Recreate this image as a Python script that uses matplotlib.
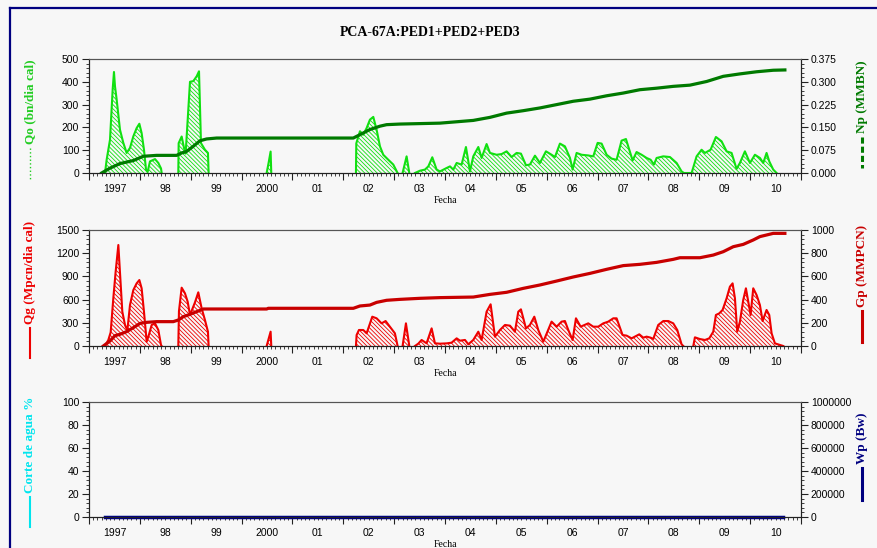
import numpy as np
import matplotlib.pyplot as plt
from matplotlib.lines import Line2D
from matplotlib.ticker import MultipleLocator, AutoMinorLocator, FormatStrFormatter

nan = np.nan

# Qo oil rate (bn/dia cal), time in decimal years
qo_t = [1997.315, 1997.347, 1997.413, 1997.465, 1997.491, 1997.511, 1997.544, 1997.609, 1997.675, 1997.740,
        1997.806, 1997.872, 1997.937, 1997.990, 1998.035, 1998.081, 1998.121, 1998.153, 1998.199, 1998.298,
        1998.363, 1998.416, 1998.429, 1998.43,
        1998.756, 1998.763, 1998.822, 1998.868, 1998.900, 1998.986, 1999.051, 1999.117, 1999.163, 1999.202,
        1999.280, 1999.339, 1999.352, 1999.36,
        2000.493, 2000.532, 2000.571, 2000.584, 2000.59,
        2002.249, 2002.256, 2002.328, 2002.393, 2002.459, 2002.524, 2002.590, 2002.655, 2002.721, 2002.786,
        2002.885, 2002.983, 2003.068, 2003.07,
        2003.166, 2003.245, 2003.298, 2003.30,
        2003.409, 2003.507, 2003.606, 2003.672, 2003.750, 2003.835, 2003.901, 2004.032, 2004.098, 2004.163,
        2004.229, 2004.327, 2004.412, 2004.491, 2004.556, 2004.655, 2004.720, 2004.818, 2004.884, 2005.015,
        2005.113, 2005.212, 2005.310, 2005.408, 2005.493, 2005.592, 2005.670, 2005.769, 2005.867, 2005.985,
        2006.096, 2006.162, 2006.260, 2006.358, 2006.457, 2006.509, 2006.588, 2006.686, 2006.817, 2006.915,
        2007.001, 2007.079, 2007.178, 2007.276, 2007.374, 2007.472, 2007.558, 2007.623, 2007.689, 2007.767,
        2007.866, 2007.964, 2008.043, 2008.108, 2008.161, 2008.292, 2008.423, 2008.554, 2008.652, 2008.698,
        2008.780, 2008.849, 2008.947, 2009.045, 2009.111, 2009.222, 2009.327, 2009.438, 2009.537, 2009.635,
        2009.733, 2009.799, 2009.897, 2009.996, 2010.094, 2010.192, 2010.258, 2010.323, 2010.376, 2010.454,
        2010.520]
qo = [0, 58, 146, 365, 443, 380, 322, 190, 132, 88,
      110, 161, 197, 216, 175, 102, 15, 5, 51, 61,
      44, 20, 0, nan,
      0, 131, 160, 110, 85, 400, 403, 424, 446, 131,
      102, 88, 0, nan,
      0, 45, 94, 0, nan,
      0, 130, 183, 168, 197, 234, 246, 190, 117, 80,
      58, 37, 0, nan,
      0, 73, 0, nan,
      0, 10, 15, 29, 69, 15, 7, 22, 29, 15,
      44, 37, 114, 7, 73, 114, 66, 127, 88, 80,
      83, 95, 70, 88, 85, 34, 37, 76, 44, 95,
      80, 70, 129, 117, 66, 15, 88, 80, 77, 73,
      132, 129, 80, 63, 58, 142, 149, 102, 55, 92,
      80, 66, 58, 37, 66, 73, 70, 44, 7, 0,
      0, 0, 73, 102, 88, 102, 158, 139, 95, 88,
      18, 44, 95, 44, 80, 66, 44, 88, 51, 15,
      0]

# Np cumulative oil (MMBN)
np_t = [1997.249, 1997.413, 1997.609, 1997.872, 1998.068, 1998.330, 1998.723, 1998.822, 1998.920, 1999.051,
        1999.182, 1999.313, 1999.510, 2002.197, 2002.328, 2002.524, 2002.721, 2002.852, 2003.114, 2003.900,
        2004.556, 2004.884, 2005.212, 2005.539, 2005.867, 2006.195, 2006.522, 2006.850, 2007.178, 2007.505,
        2007.833, 2008.161, 2008.488, 2008.816, 2009.144, 2009.471, 2009.799, 2010.127, 2010.454, 2010.683]
np_cum = [0, 0.016, 0.031, 0.041, 0.055, 0.058, 0.058, 0.066, 0.071, 0.088,
          0.106, 0.112, 0.115, 0.115, 0.126, 0.143, 0.154, 0.159, 0.161, 0.164,
          0.173, 0.183, 0.197, 0.205, 0.214, 0.225, 0.236, 0.243, 0.254, 0.263,
          0.274, 0.279, 0.285, 0.289, 0.301, 0.318, 0.326, 0.333, 0.338, 0.339]

# Qg gas rate (Mpcn/dia cal)
qg_t = [1997.315, 1997.380, 1997.426, 1997.478, 1997.524, 1997.577, 1997.609, 1997.655, 1997.708, 1997.754,
        1997.806, 1997.872, 1997.937, 1997.990, 1998.035, 1998.081, 1998.134, 1998.180, 1998.232, 1998.298,
        1998.363, 1998.416, 1998.429, 1998.43,
        1998.756, 1998.769, 1998.822, 1998.887, 1998.940, 1998.986, 1999.084, 1999.149, 1999.215, 1999.280,
        1999.339, 1999.352, 1999.36,
        2000.493, 2000.532, 2000.571, 2000.584, 2000.59,
        2002.249, 2002.262, 2002.308, 2002.393, 2002.459, 2002.570, 2002.655, 2002.753, 2002.832, 2002.917,
        2003.015, 2003.068, 2003.07,
        2003.166, 2003.232, 2003.298, 2003.30,
        2003.409, 2003.474, 2003.540, 2003.638, 2003.737, 2003.802, 2003.900, 2004.032, 2004.130, 2004.229,
        2004.294, 2004.393, 2004.458, 2004.556, 2004.655, 2004.720, 2004.818, 2004.897, 2004.982, 2005.081,
        2005.179, 2005.277, 2005.375, 2005.441, 2005.493, 2005.592, 2005.670, 2005.756, 2005.834, 2005.933,
        2006.096, 2006.195, 2006.293, 2006.358, 2006.424, 2006.509, 2006.575, 2006.667, 2006.817, 2006.915,
        2007.014, 2007.112, 2007.210, 2007.309, 2007.374, 2007.492, 2007.571, 2007.669, 2007.820, 2007.898,
        2007.964, 2008.043, 2008.095, 2008.193, 2008.292, 2008.390, 2008.488, 2008.567, 2008.652, 2008.685,
        2008.69,
        2008.882, 2008.914, 2009.012, 2009.111, 2009.196, 2009.275, 2009.327, 2009.393, 2009.458, 2009.537,
        2009.602, 2009.655, 2009.701, 2009.746, 2009.799, 2009.864, 2009.917, 2009.963, 2010.009, 2010.061,
        2010.127, 2010.192, 2010.245, 2010.323, 2010.376, 2010.422, 2010.487, 2010.585, 2010.651]
qg = [0, 78, 177, 616, 961, 1306, 961, 444, 272, 200,
      530, 724, 810, 853, 746, 444, 56, 150, 272, 293,
      207, 13, 0, nan,
      0, 450, 754, 681, 573, 401, 565, 694, 487, 336,
      185, 0, nan,
      0, 90, 185, 0, nan,
      0, 142, 207, 207, 164, 379, 358, 293, 323, 250,
      164, 0, nan,
      0, 293, 0, nan,
      0, 30, 78, 35, 228, 35, 30, 34, 43, 99,
      69, 78, 22, 78, 185, 78, 444, 539, 121, 207,
      272, 263, 185, 444, 474, 228, 272, 379, 207, 56,
      315, 250, 315, 323, 207, 78, 358, 250, 293, 250,
      250, 293, 315, 358, 358, 142, 134, 99, 151, 108,
      121, 108, 91, 272, 323, 323, 293, 207, 22, 0,
      nan,
      0, 112, 90, 78, 99, 185, 401, 422, 466, 616,
      767, 810, 616, 185, 315, 595, 746, 573, 401, 746,
      659, 530, 323, 466, 401, 164, 34, 13, 0]

# Gp cumulative gas (MMPCN)
gp_t = [1997.282, 1997.413, 1997.511, 1997.609, 1997.740, 1997.872, 1998.003, 1998.134, 1998.330, 1998.658,
        1998.756, 1998.855, 1998.986, 1999.117, 1999.248, 1999.379, 2000.493, 2000.526, 2002.197, 2002.328,
        2002.524, 2002.655, 2002.852, 2003.114, 2003.507, 2003.900, 2004.556, 2004.884, 2005.212, 2005.539,
        2005.867, 2006.195, 2006.522, 2006.850, 2007.178, 2007.505, 2007.833, 2008.161, 2008.488, 2008.619,
        2009.012, 2009.275, 2009.471, 2009.668, 2009.864, 2010.061, 2010.192, 2010.454, 2010.683]
gp = [0, 43, 89, 101, 124, 158, 195, 204, 210, 210,
      224, 253, 273, 296, 319, 319, 319, 325, 325, 345,
      353, 376, 394, 402, 411, 417, 422, 445, 463, 497,
      526, 560, 595, 626, 661, 693, 704, 721, 747, 761,
      761, 784, 813, 856, 876, 914, 943, 971, 971]

# water cut % and Wp (Bw): zero over the whole history
w_t = [1997.31, 2010.65]
corte = [0, 0]
wp = [0, 0]

years = list(range(1997, 2012))
year_labels = ['1997', '98', '99', '2000', '01', '02', '03', '04', '05', '06', '07', '08', '09', '10']

W, H = 878, 548
BG = '#f7f7f7'
plt.rcParams['hatch.linewidth'] = 0.6
HATCH = '\\' * 8
TICKFONT = dict(family='Liberation Sans', size=7.5)
SERIF = 'Liberation Serif'

fig = plt.figure(figsize=(W / 100, H / 100), dpi=100, facecolor=BG)


def fx(x):
    return x / W


def fy(y):
    return 1 - y / H


def panel(top, bottom, ymax, ystep, rmax, rstep, rfmt):
    ax = fig.add_axes([fx(89), fy(bottom), fx(801) - fx(89), (bottom - top) / H])
    ax.set_facecolor(BG)
    axr = ax.twinx()
    ax.set_xlim(1997, 2011)
    ax.set_ylim(0, ymax)
    axr.set_ylim(0, rmax)
    ax.yaxis.set_major_locator(MultipleLocator(ystep))
    ax.yaxis.set_minor_locator(AutoMinorLocator(5))
    axr.yaxis.set_major_locator(MultipleLocator(rstep))
    axr.yaxis.set_minor_locator(AutoMinorLocator(5))
    axr.yaxis.set_major_formatter(FormatStrFormatter(rfmt))
    ax.set_xticks(years)
    ax.set_xticklabels([])
    ax.set_xticks(np.arange(1997, 2011.001, 1 / 12), minor=True)
    for a in (ax, axr):
        a.tick_params(which='major', length=5, width=0.8, direction='out', color='#222222', pad=2)
        a.tick_params(which='minor', length=2.5, width=0.6, direction='out', color='#222222')
        for lab in a.get_yticklabels():
            lab.set_fontfamily(TICKFONT['family'])
            lab.set_fontsize(TICKFONT['size'])
        for s in a.spines.values():
            s.set_linewidth(0.8)
            s.set_color('#222222')
        a.spines['top'].set_color('#555555')
    sec = ax.secondary_xaxis('bottom')
    sec.set_xticks([y + 0.5 for y in years[:-1]], year_labels)
    sec.tick_params(length=0, pad=8)
    sec.spines['bottom'].set_visible(False)
    for lab in sec.get_xticklabels():
        lab.set_fontfamily(TICKFONT['family'])
        lab.set_fontsize(TICKFONT['size'])
    ax.annotate('Fecha', xy=(0.5, 0), xycoords='axes fraction', xytext=(0, -20), textcoords='offset points',
                ha='center', va='center', fontsize=7, family=SERIF)
    return ax, axr


def side_label(x, y_line_top, y_line_bot, text, color, ls, lw):
    fig.add_artist(Line2D([fx(x), fx(x)], [fy(y_line_top), fy(y_line_bot)], color=color, ls=ls, lw=lw,
                          transform=fig.transFigure))
    fig.text(fx(x), fy(y_line_top - 4), text, rotation=90, ha='center', va='bottom', color=color,
             fontsize=9.5, fontweight='bold', family=SERIF)


# panel 1: oil
ax1, ax1r = panel(59, 173, 500, 100, 0.375, 0.075, '%.3f')
qo_c = '#11e011'
np_c = '#007a00'
ax1.fill_between(qo_t, qo, 0, facecolor='none', edgecolor=qo_c, hatch=HATCH, linewidth=0)
ax1.plot(qo_t, qo, color=qo_c, lw=1.5)
ax1r.plot(np_t, np_cum, color=np_c, lw=2.3)

# panel 2: gas
ax2, ax2r = panel(230, 346, 1500, 300, 1000, 200, '%d')
qg_c = '#ee0000'
gp_c = '#c80000'
ax2.fill_between(qg_t, qg, 0, facecolor='none', edgecolor=qg_c, hatch=HATCH, linewidth=0)
ax2.plot(qg_t, qg, color=qg_c, lw=1.5)
ax2r.plot(gp_t, gp, color=gp_c, lw=2.3)

# panel 3: water
ax3, ax3r = panel(402, 517, 100, 20, 1000000, 200000, '%d')
ax3.plot(w_t, corte, color='#00e5ee', lw=1.5)
ax3r.plot(w_t, wp, color='#000080', lw=2.5, clip_on=False)

side_label(30, 148, 181, 'Qo (bn/dia cal)', '#22cc22', ':', 1.0)
side_label(862, 137, 168, 'Np (MMBN)', np_c, (0, (2.0, 1.0)), 2.2)
side_label(30, 328, 358, 'Qg (Mpcn/dia cal)', qg_c, '-', 1.5)
side_label(862, 311, 342, 'Gp (MMPCN)', gp_c, '-', 2.2)
side_label(30, 497, 527, 'Corte de agua %', '#00e5ee', '-', 1.5)
side_label(862, 468, 500, 'Wp (Bw)', '#000080', '-', 2.2)

fig.text(fx(430), fy(33), 'PCA-67A:PED1+PED2+PED3', ha='center', va='center', fontsize=10,
         fontweight='bold', family=SERIF)

# window frame
fig.add_artist(Line2D([fx(10), 1], [fy(8), fy(8)], color='#000080', lw=1.6, transform=fig.transFigure))
fig.add_artist(Line2D([fx(10), fx(10)], [fy(8), 0], color='#000080', lw=1.6, transform=fig.transFigure))

fig.savefig('out.png', dpi=100, facecolor=BG)
